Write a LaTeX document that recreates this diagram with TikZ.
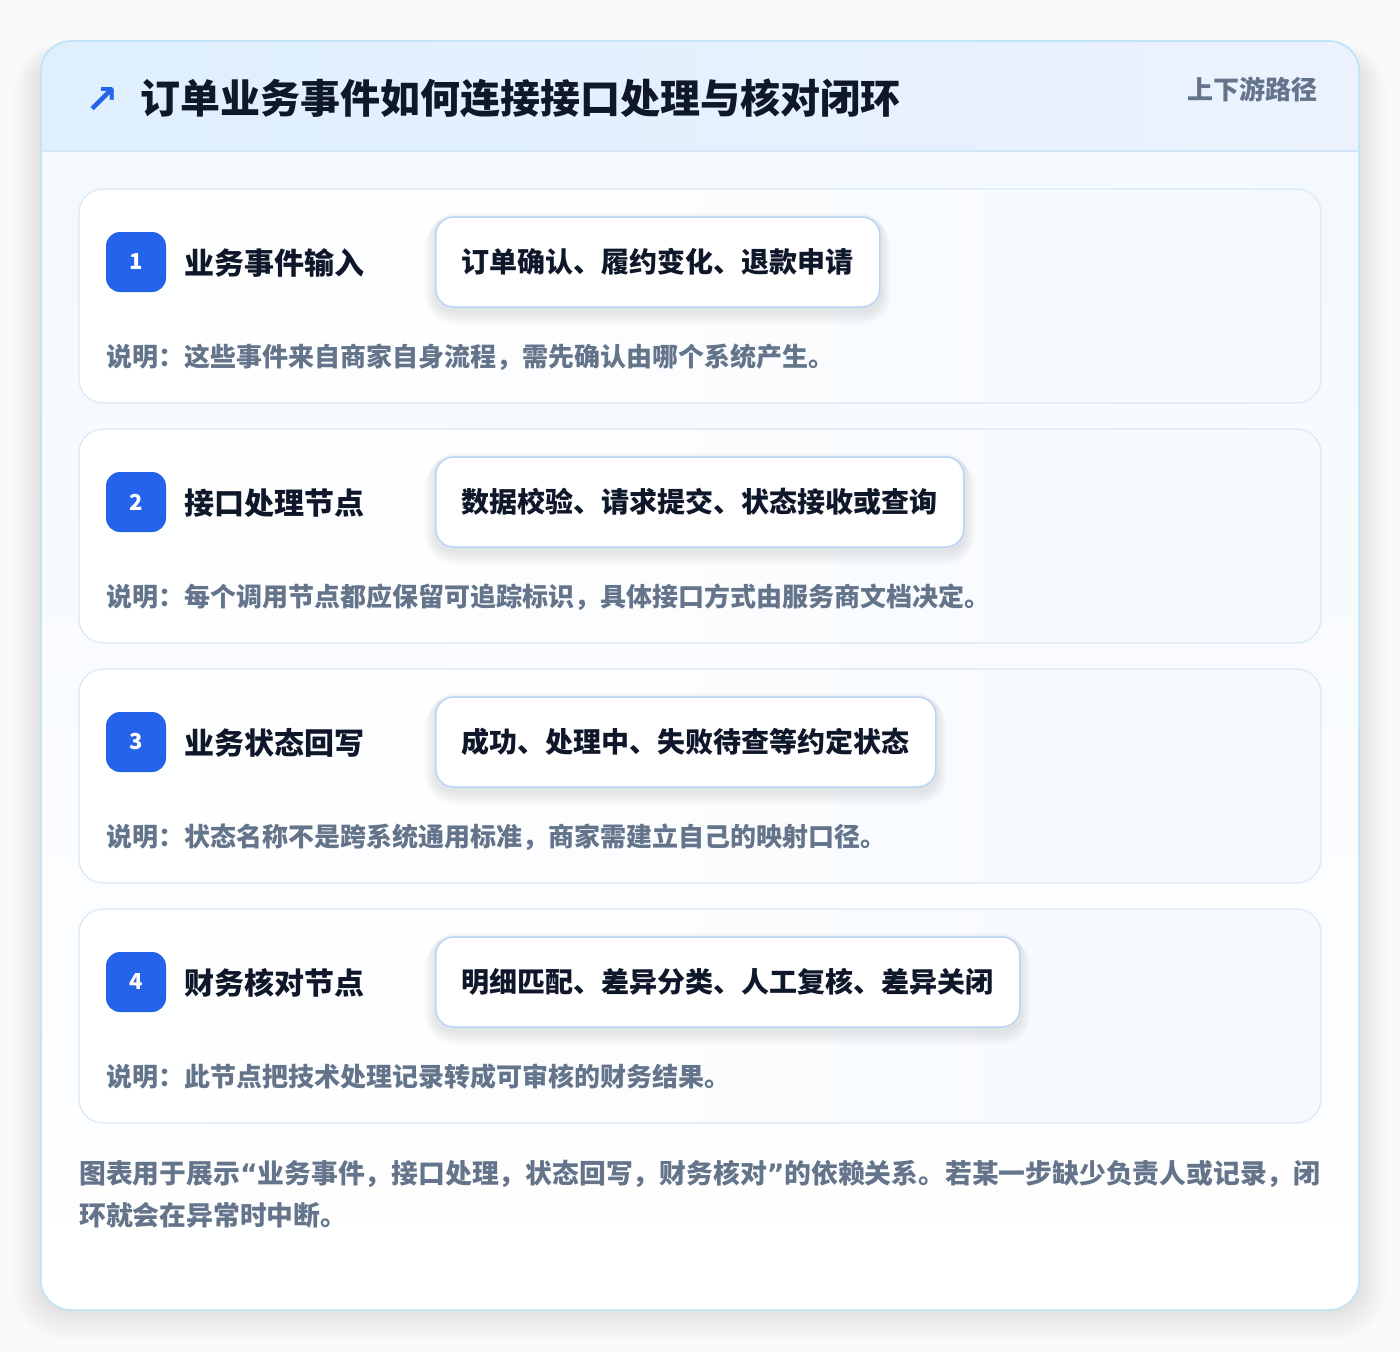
\documentclass[tikz,border=0pt]{standalone}
\usepackage{fontspec}
\setmainfont{Noto Sans CJK SC}
\newfontfamily\symfont{DejaVu Sans}
\pgfdeclarelayer{cardlayer}
\pgfdeclarelayer{shadowlayer}
\pgfsetlayers{cardlayer,shadowlayer,main}
\definecolor{bgc}{HTML}{FAFAFB}
\definecolor{outerb}{HTML}{BFE3F7}
\definecolor{hdrL}{HTML}{DFEFFD}
\definecolor{hdrR}{HTML}{EBF2FE}
\definecolor{hdrsep}{HTML}{D3E6F8}
\definecolor{bodyT}{HTML}{F3F8FE}
\definecolor{cardb}{HTML}{D8EAF8}
\definecolor{cardR}{HTML}{F6FAFE}
\definecolor{badgec}{HTML}{2563EB}
\definecolor{pillb}{HTML}{BAD4F3}
\definecolor{ink}{HTML}{0F172A}
\definecolor{muted}{HTML}{64748B}
\tikzset{
  cardbox/.style={draw=cardb, line width=1.2pt, rounded corners=24pt, minimum width=1242pt, minimum height=214pt, left color=white, right color=cardR, inner sep=0pt},
  badge/.style={fill=badgec, rounded corners=14pt, minimum width=60pt, minimum height=60pt, inner sep=0pt, text=white, font=\bfseries\fontsize{22}{22}\selectfont},
  steptitle/.style={anchor=west, text=ink, font=\bfseries\fontsize{30}{30}\selectfont, inner sep=0pt},
  pill/.style={anchor=west, draw=pillb, line width=1.5pt, fill=white, rounded corners=18pt, minimum height=90pt, inner xsep=26pt, text=ink, font=\bfseries\fontsize{28}{28}\selectfont},
  softshade/.style={fill=black, opacity=0.006},
  desc/.style={anchor=west, text=muted, font=\bfseries\fontsize{26}{26}\selectfont, inner sep=0pt},
}
\begin{document}
\begin{tikzpicture}[x=1pt,y=-1pt]
\begin{pgfonlayer}{cardlayer}
\fill[bgc] (0,0) rectangle (1400,1352);
% outer shadow
\foreach \i in {1,...,24}{
  \fill[black, opacity=0.005, rounded corners=30pt+\i pt] (41-\i*1.2,41-\i*0.4+10) rectangle (1359+\i*1.2,1310+\i*1.3);
}
% outer card
\node[draw=outerb, line width=1.5pt, rounded corners=30pt, minimum width=1318pt, minimum height=1269pt, top color=bodyT, bottom color=white, inner sep=0pt] (outer) at (700,675.5) {};
% header band
\path[left color=hdrL, right color=hdrR, rounded corners=28pt] (42,151) -- (42,42) -- (1358,42) -- (1358,151);
\draw[hdrsep, line width=1.2pt] (42,151) -- (1358,151);
\draw[outerb, line width=1.5pt, rounded corners=30pt] (41,151) -- (41,41) -- (1359,41) -- (1359,151);
\end{pgfonlayer}
\useasboundingbox (0,0) rectangle (1400,1352);
\node[text=badgec, font=\symfont\bfseries\fontsize{40}{40}\selectfont, inner sep=0pt] (icon) at (102,100) {↗};
\node[anchor=west, text=ink, font=\bfseries\fontsize{40}{40}\selectfont, inner sep=0pt] (title) at (140,98) {订单业务事件如何连接接口处理与核对闭环};
\node[anchor=east, text=muted, font=\bfseries\fontsize{26}{26}\selectfont, inner sep=0pt] (tag) at (1318,89) {上下游路径};
% steps
\foreach \n/\y/\t/\p/\d in {
 1/189/业务事件输入/订单确认、履约变化、退款申请/说明：这些事件来自商家自身流程，需先确认由哪个系统产生。,
 2/429/接口处理节点/数据校验、请求提交、状态接收或查询/说明：每个调用节点都应保留可追踪标识，具体接口方式由服务商文档决定。,
 3/669/业务状态回写/成功、处理中、失败待查等约定状态/说明：状态名称不是跨系统通用标准，商家需建立自己的映射口径。,
 4/909/财务核对节点/明细匹配、差异分类、人工复核、差异关闭/说明：此节点把技术处理记录转成可审核的财务结果。}{
  \begin{pgfonlayer}{cardlayer}
    \node[cardbox] (card\n) at (700,\y+107) {};
  \end{pgfonlayer}
  \node[badge] (badge\n) at (136,\y+73) {\n};
  \node[steptitle] (stitle\n) at (184,\y+74) {\t};
  \node[pill] (pill\n) at (435,\y+73) {\p};
  \begin{pgfonlayer}{shadowlayer}
    \foreach \k in {1,...,12}{
      \fill[softshade, rounded corners=18pt+\k pt] ([xshift=-\k*0.9pt, yshift=-\k*0.5pt+4pt]pill\n.north west) rectangle ([xshift=\k*0.9pt, yshift=-\k*1.1pt-4pt]pill\n.south east);
    }
  \end{pgfonlayer}
  \node[desc] (desc\n) at (106,\y+168) {\d};
}
% footer
\node[desc, text width=1260pt, align=left, anchor=north west, font=\bfseries\fontsize{26.8}{42}\selectfont] (footer) at (79,1160) {图表用于展示{\symfont“}业务事件，接口处理，状态回写，财务核对{\symfont”}的依赖关系。若某一步缺少负责人或记录，闭\\环就会在异常时中断。};
\end{tikzpicture}
\end{document}
